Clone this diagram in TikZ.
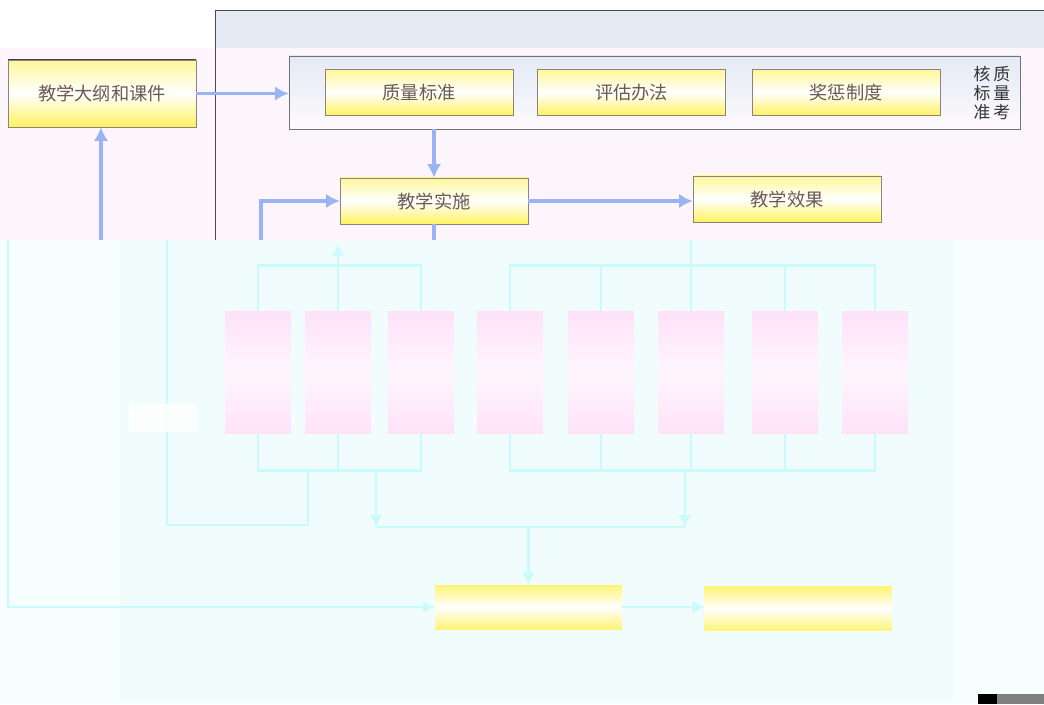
\documentclass[tikz,border=0pt]{standalone}
\usepackage{fontspec}
\newfontfamily\cjk{Noto Sans CJK SC}
\usetikzlibrary{arrows.meta, positioning}

\definecolor{arrblue}{HTML}{9BB3F5}
\definecolor{boxedge}{HTML}{8C8282}
\definecolor{boxtext}{HTML}{6A5A5A}
\definecolor{ylwtop}{HTML}{FFF79A}
\definecolor{ylwbot}{HTML}{FFF25E}
\definecolor{topbg}{HTML}{FCF6FC}
\definecolor{bandbg}{HTML}{E4EAF4}
\definecolor{washbg}{HTML}{F7FEFE}
\definecolor{washmid}{HTML}{F1FDFD}
\definecolor{paleline}{HTML}{C9FBFC}
\definecolor{palepink}{HTML}{FFE2F9}

\begin{document}
\begin{tikzpicture}[x=0.025cm, y=-0.025cm,
  every node/.style={font=\cjk\fontsize{13}{15}\selectfont, text=boxtext},
  ybox/.style={rectangle, draw=boxedge, top color=ylwtop, bottom color=ylwbot, middle color=white, minimum width=4.7cm, minimum height=1.15cm, inner sep=0pt},
  wbox/.style={rectangle, top color=ylwbot!85, bottom color=ylwbot!85, middle color=white, minimum width=4.67cm, minimum height=1.1cm, inner sep=0pt},
  pbox/.style={rectangle, top color=palepink, bottom color=palepink, middle color=palepink!30, minimum width=1.65cm, minimum height=3.025cm, inner sep=0pt},
  arr/.style={-{Latex[length=3.4mm, width=3.6mm]}, line width=2.4pt, draw=arrblue},
  pline/.style={line width=2pt, draw=paleline},
  parr/.style={pline, -{Latex[length=3mm, width=3.2mm]}}
]
\useasboundingbox (0,0) rectangle (1044,704);

% backgrounds
\fill[topbg] (0,48) rectangle (1044,240);
\fill[bandbg] (215,10) rectangle (1044,48);
\draw[black!70] (215,240) -- (215,10) -- (1044,10);
\fill[washbg] (0,240) rectangle (1044,704);
\fill[washmid] (120,240) rectangle (955,700);

% upper part
\node[ybox, minimum height=1.675cm] (outline) at (102,93.5) {教学大纲和课件};
\draw[black!75, line width=1pt] (outline.north west) -- (outline.north east);
\node[draw=black!55, top color=bandbg, bottom color=topbg!60!white, minimum width=18.275cm, minimum height=1.825cm] (std) at (654.5,92.5) {};
\node[ybox] (q1) at (419,92.5) {质量标准};
\node[ybox, right=0.6cm of q1] (q2) {评估办法};
\node[ybox, right=0.65cm of q2] (q3) {奖惩制度};
\node[align=center, text=black!80, font=\cjk\fontsize{12}{13.5}\selectfont] (stdlbl) at (992,93) {核\hspace{2pt}质\\标\hspace{2pt}量\\准\hspace{2pt}考};
\node[ybox] (impl) at (434,201) {教学实施};
\node[ybox] (effect) at (787,199) {教学效果};

\coordinate (c1) at (261,240);
\coordinate (c2) at (101,240);
\draw[arr] (outline.east) -- (outline.east -| std.west);
\draw[arr] (std.south -| impl.north) -- (impl.north);
\draw[arr] (impl.east) -- (impl.east -| effect.west);
\draw[arr] (c1) |- (impl.west);
\draw[arr] (c2) -- (c2 |- outline.south);
\draw[arrblue, line width=2.4pt] (impl.south) -- (impl.south |- c1);

% lower part
\foreach \x [count=\i] in {258,338,421,510,601,691,785,875}
  \node[pbox] (p\i) at (\x,372.5) {};

\draw[pline] (p1.north) -- ++(0,-46) -| (p3.north);
\draw[parr] (p2.north) -- ++(0,-68);
\draw[pline] (p4.north) -- ++(0,-46) -| (p8.north);
\foreach \i in {5,6,7}
  \draw[pline] (p\i.north) -- ++(0,-46);
\draw[pline] (p6.north) -- ++(0,-72);

\draw[pline] (p1.south) -- ++(0,37) -| (p3.south);
\draw[pline] (p2.south) -- ++(0,37);
\draw[pline] (p4.south) -- ++(0,37) -| (p8.south);
\foreach \i in {5,6,7}
  \draw[pline] (p\i.south) -- ++(0,37);

\node[wbox] (res) at (528.5,607) {};
\node[wbox] (fin) at (798,608.5) {};

\coordinate (jl) at (376,470);
\coordinate (jr) at (685,470);
\coordinate (ml) at (376,527);
\coordinate (mr) at (685,527);
\coordinate (jk) at (308,470);
\coordinate (lk) at (167,525);
\coordinate (c3) at (8,240);
\draw[parr] (jl) -- (ml);
\draw[parr] (jr) -- (mr);
\draw[pline] (ml) -- (mr);
\draw[parr] (ml -| res.north) -- (res.north);
\draw[pline] (jk) |- (lk) -- (lk |- c3);
\node[fill=white, opacity=0.8, minimum width=1.7cm, minimum height=0.7cm] (lbl) at (163,418) {};
\draw[parr] (c3) |- (res.west);
\draw[parr] (res.east) -- (res.east -| fin.west);

\fill[black] (978,694) rectangle (997,704);
\fill[black!50] (997,694) rectangle (1044,704);
\end{tikzpicture}
\end{document}
